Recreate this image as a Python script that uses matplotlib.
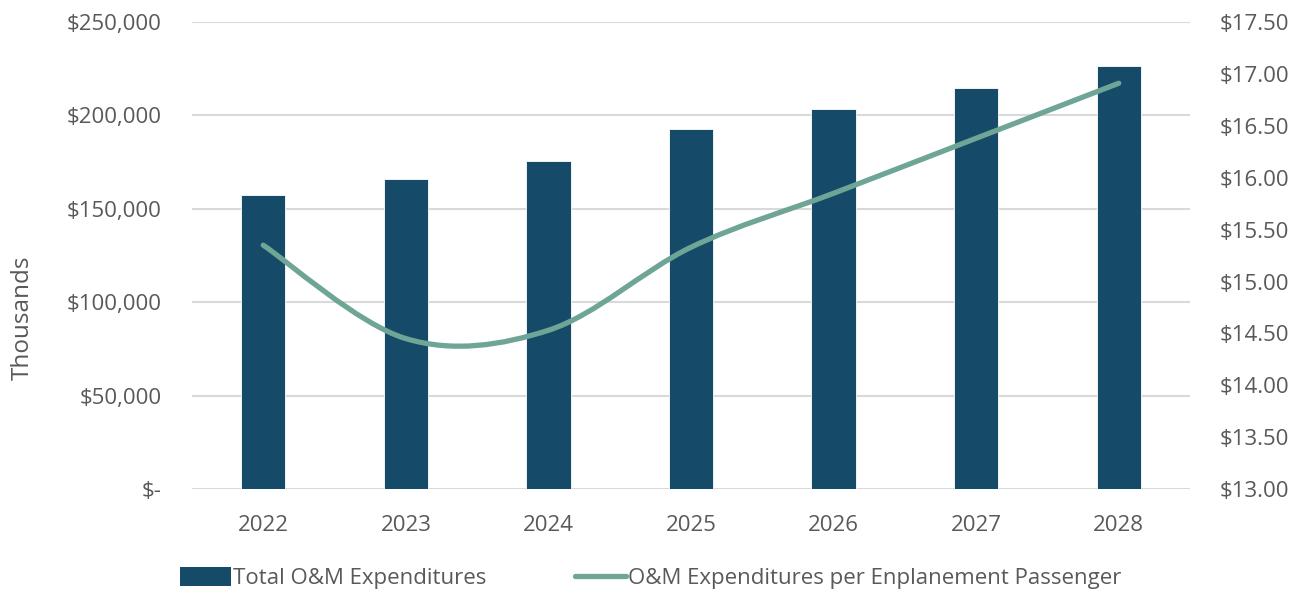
import matplotlib.pyplot as plt
from matplotlib.path import Path
from matplotlib.patches import PathPatch, Patch
from matplotlib.lines import Line2D
from matplotlib.ticker import FuncFormatter

years = ["2022", "2023", "2024", "2025", "2026", "2027", "2028"]
total_om = [157400, 165800, 175700, 192600, 203300, 214500, 226400]
om_per_pax = [15.35, 14.45, 14.53, 15.33, 15.85, 16.38, 16.91]

bar_color = "#164A69"
line_color = "#6FA596"
text_color = "#595959"
grid_color = "#D9D9D9"

plt.rcParams["font.family"] = ["Open Sans", "DejaVu Sans"]
plt.rcParams["font.size"] = 16

fig = plt.figure(figsize=(13.04, 5.95), dpi=100)
ax = fig.add_axes([0.1472, 0.178, 0.7654, 0.785])
ax2 = ax.twinx()

x = list(range(len(years)))
ax.bar(x, total_om, width=0.31, color=bar_color, edgecolor="white", linewidth=0.6, zorder=2)

ax.set_ylim(0, 250000)
ax.set_yticks(range(0, 250001, 50000))
ax.yaxis.set_major_formatter(FuncFormatter(lambda v, p: "$-" if v == 0 else f"${v:,.0f}"))
ax.set_xlim(-0.5, len(years) - 0.5)
ax.set_xticks(x)
ax.set_xticklabels(years)
ax.grid(axis="y", color=grid_color, linewidth=1.5, zorder=0)
ax.set_axisbelow(True)
ax.set_ylabel("Thousands", color=text_color, fontsize=17.5)
ax.yaxis.set_label_coords(-0.158, 0.366)

ax2.set_ylim(13, 17.5)
ax2.set_yticks([13 + 0.5 * i for i in range(10)])
ax2.yaxis.set_major_formatter(FuncFormatter(lambda v, p: f"${v:.2f}"))

# smoothed line like Excel (bezier through the points)
pts = list(zip(x, om_per_pax))
verts = [pts[0]]
codes = [Path.MOVETO]
n = len(pts)
for i in range(n - 1):
    p0 = pts[max(i - 1, 0)]
    p1 = pts[i]
    p2 = pts[i + 1]
    p3 = pts[min(i + 2, n - 1)]
    c1 = (p1[0] + (p2[0] - p0[0]) / 6, p1[1] + (p2[1] - p0[1]) / 6)
    c2 = (p2[0] - (p3[0] - p1[0]) / 6, p2[1] - (p3[1] - p1[1]) / 6)
    verts += [c1, c2, p2]
    codes += [Path.CURVE4] * 3
ax2.add_patch(PathPatch(Path(verts, codes), facecolor="none", edgecolor=line_color,
                        linewidth=3.8, capstyle="round", joinstyle="round", zorder=3))

for a in (ax, ax2):
    for s in a.spines.values():
        s.set_visible(False)
    a.tick_params(length=0, colors=text_color, labelsize=16)
ax.tick_params(axis="y", pad=22)
ax.tick_params(axis="x", pad=19)
ax2.tick_params(axis="y", pad=21)

handles = [Patch(facecolor=bar_color, label="Total O&M Expenditures"),
           Line2D([0], [0], color=line_color, linewidth=3.8, solid_capstyle="round",
                  label="O&M Expenditures per Enplanement Passenger")]
fig.legend(handles=handles, loc="center", bbox_to_anchor=(0.499, 0.028), ncol=2, frameon=False,
           fontsize=16, labelcolor=text_color, handlelength=2.3, handleheight=0.9,
           handletextpad=0.1, columnspacing=4.0)

fig.savefig("out.png", dpi=100)
